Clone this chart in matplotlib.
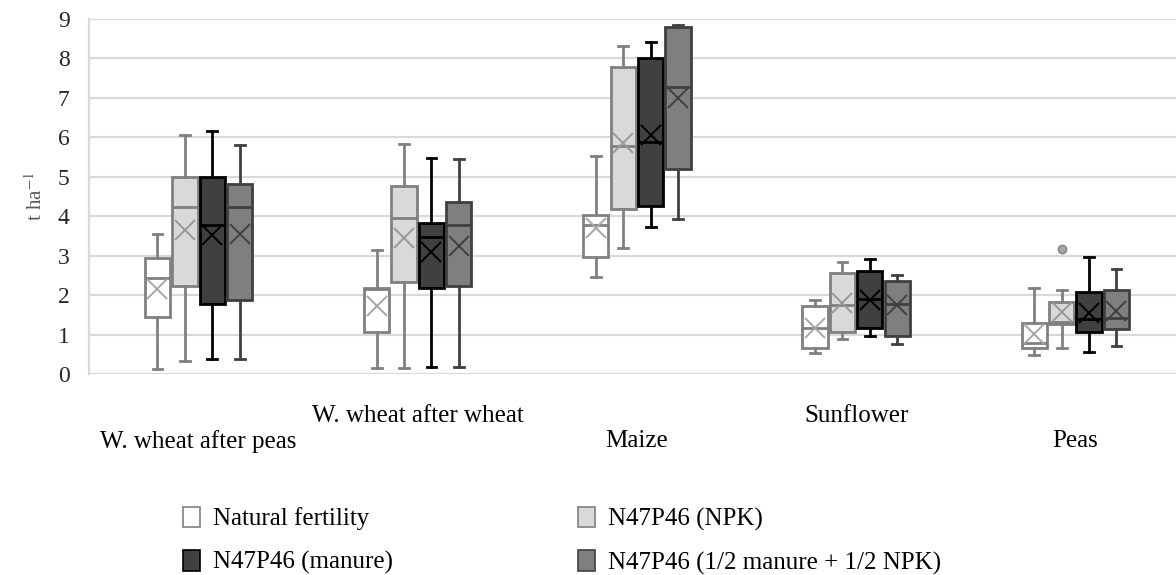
import matplotlib
matplotlib.use("Agg")
import matplotlib.pyplot as plt
from matplotlib.patches import Patch
import numpy as np

# ── Data (t/ha) ───────────────────────────────────────────────────────
crops = ["W. wheat after peas", "W. wheat after wheat", "Maize", "Sunflower", "Peas"]
treatments = ["Natural fertility", "N47P46 (NPK)", "N47P46 (manure)",
              "N47P46 (1/2 manure + 1/2 NPK)"]

# rows = treatments, columns = crops
whislo = [[0.13, 0.15, 2.46, 0.53, 0.48],
          [0.34, 0.15, 3.19, 0.89, 0.66],
          [0.38, 0.18, 3.73, 0.96, 0.56],
          [0.38, 0.18, 3.93, 0.76, 0.71]]
q1     = [[1.45, 1.07, 2.97, 0.66, 0.66],
          [2.24, 2.33, 4.18, 1.07, 1.27],
          [1.78, 2.18, 4.26, 1.17, 1.07],
          [1.88, 2.23, 5.20, 0.96, 1.14]]
med    = [[2.43, 2.15, 3.78, 1.17, 0.79],
          [4.23, 3.95, 5.78, 1.75, 1.32],
          [3.79, 3.47, 5.88, 1.90, 1.39],
          [4.23, 3.78, 7.28, 1.78, 1.42]]
q3     = [[2.94, 2.18, 4.03, 1.72, 1.29],
          [5.00, 4.77, 7.78, 2.56, 1.83],
          [5.00, 3.83, 8.01, 2.61, 2.08],
          [4.82, 4.36, 8.80, 2.36, 2.13]]
whishi = [[3.55, 3.14, 5.53, 1.88, 2.18],
          [6.06, 5.83, 8.32, 2.84, 2.13],
          [6.17, 5.48, 8.42, 2.92, 2.97],
          [5.80, 5.45, 8.85, 2.51, 2.66]]
means  = [[2.15, 1.72, 3.70, 1.17, 1.01],
          [3.65, 3.45, 5.86, 1.80, 1.57],
          [3.52, 3.10, 6.06, 1.88, 1.55],
          [3.55, 3.25, 7.00, 1.75, 1.60]]
outliers = [[[], [], [], [], []],
            [[], [], [], [], [3.17]],
            [[], [], [], [], []],
            [[], [], [], [], []]]

# ── Style ─────────────────────────────────────────────────────────────
plt.rcParams.update({
    "font.family": "Liberation Serif",
    "font.size": 18,
    "mathtext.fontset": "stix",
})
face  = ["#ffffff", "#d9d9d9", "#404040", "#7f7f7f"]
edge  = ["#808080", "#808080", "#000000", "#404040"]
meanc = ["#a6a6a6", "#999999", "#000000", "#404040"]

fig = plt.figure(figsize=(11.76, 5.75), dpi=100)
ax = fig.add_axes([89 / 1176, 1 - 374 / 575, 1 - 89 / 1176, (374 - 19) / 575])

x = np.arange(len(crops))
step, width = 0.125, 0.115
for j in range(len(treatments)):
    stats = []
    for i in range(len(crops)):
        stats.append(dict(whislo=whislo[j][i], q1=q1[j][i], med=med[j][i],
                          q3=q3[j][i], whishi=whishi[j][i], mean=means[j][i],
                          fliers=outliers[j][i]))
    pos = x + (j - 1.5) * step
    ax.bxp(stats, positions=pos, widths=width, capwidths=0.045,
           showmeans=True, patch_artist=True, manage_ticks=False,
           boxprops=dict(facecolor=face[j], edgecolor=edge[j], linewidth=2),
           medianprops=dict(color=edge[j], linewidth=2),
           whiskerprops=dict(color=edge[j], linewidth=2),
           capprops=dict(color=edge[j], linewidth=2),
           meanprops=dict(marker="x", markeredgecolor=meanc[j],
                          markersize=14, markeredgewidth=1.4),
           flierprops=dict(marker="o", markerfacecolor="#a6a6a6",
                           markeredgecolor="#808080", markersize=6))

ax.set_ylim(0, 9)
ax.set_yticks(range(10))
ax.set_xlim(-0.5, 4.5 - 9 / 219.5)
ax.grid(True, axis="y", color="#d9d9d9", linewidth=1.6)
ax.set_axisbelow(True)
for s in ["top", "right", "bottom"]:
    ax.spines[s].set_visible(False)
ax.spines["left"].set_color("#d9d9d9")
ax.spines["left"].set_linewidth(1.6)

# staggered category labels
labels = [("\n" + c) if i % 2 == 0 else c for i, c in enumerate(crops)]
ax.set_xticks(x)
ax.set_xticklabels(labels, linespacing=1.2)
ax.tick_params(axis="x", length=0, pad=22)
ax.tick_params(axis="y", length=0, pad=14, labelsize=17, labelcolor="#262626")
ax.set_ylabel("t ha$^{-1}$", color="#595959", fontsize=15, labelpad=8)

# legend filled row by row
handles = [Patch(facecolor=face[j], edgecolor=edge[j], linewidth=1.2)
           for j in range(len(treatments))]
order = [0, 2, 1, 3]
fig.legend([handles[k] for k in order], [treatments[k] for k in order],
           ncol=2, loc="upper left", fontsize=18,
           bbox_to_anchor=(160 / 1176, 1 - 484 / 575), frameon=False,
           handlelength=0.7, handleheight=0.9, handletextpad=0.5,
           columnspacing=7.4, labelspacing=0.78)

fig.savefig("out.png", dpi=100)
